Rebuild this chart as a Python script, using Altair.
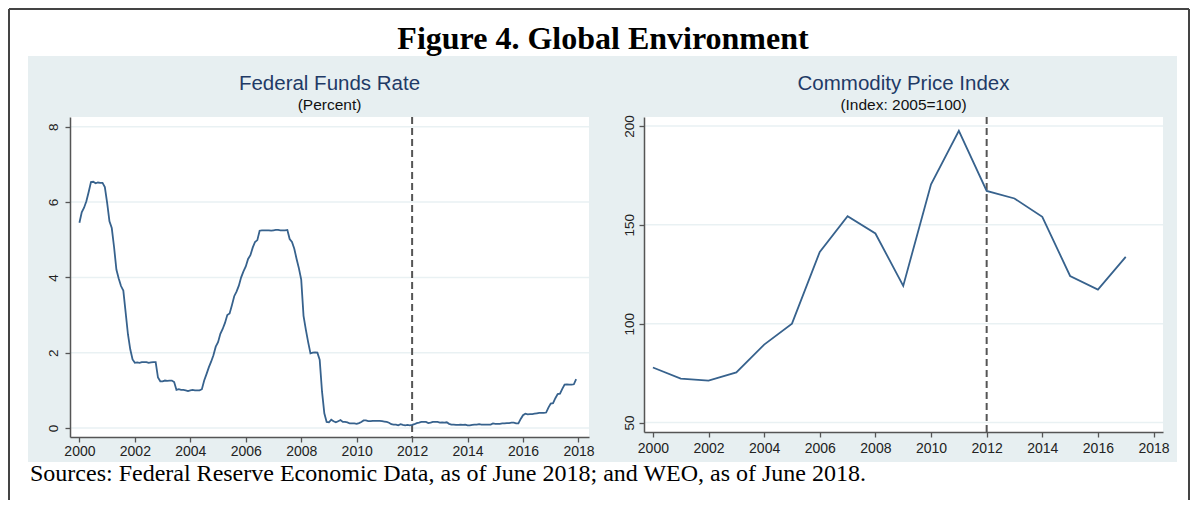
import altair as alt
import pandas as pd

# ---------------- data ----------------
fig_title = "Figure 4. Global Environment"
sources_text = "Sources: Federal Reserve Economic Data, as of June 2018; and WEO, as of June 2018."

ffr_title = "Federal Funds Rate"
ffr_subtitle = "(Percent)"
comm_title = "Commodity Price Index"
comm_subtitle = "(Index: 2005=100)"

ffr_years = list(range(2000, 2018))
# monthly effective federal funds rate, Jan 2000 - Dec 2017 (one row per year)
ffr_values = [
    5.45, 5.73, 5.85, 6.02, 6.27, 6.53, 6.54, 6.50, 6.52, 6.51, 6.51, 6.40,
    5.98, 5.49, 5.31, 4.80, 4.21, 3.97, 3.77, 3.65, 3.07, 2.49, 2.09, 1.82,
    1.73, 1.74, 1.73, 1.75, 1.75, 1.75, 1.73, 1.74, 1.75, 1.75, 1.34, 1.24,
    1.24, 1.26, 1.25, 1.26, 1.26, 1.22, 1.01, 1.03, 1.01, 1.01, 1.00, 0.98,
    1.00, 1.01, 1.00, 1.00, 1.00, 1.03, 1.26, 1.43, 1.61, 1.76, 1.93, 2.16,
    2.28, 2.50, 2.63, 2.79, 3.00, 3.04, 3.26, 3.50, 3.62, 3.78, 4.00, 4.16,
    4.29, 4.49, 4.59, 4.79, 4.94, 4.99, 5.24, 5.25, 5.25, 5.25, 5.25, 5.24,
    5.25, 5.26, 5.26, 5.25, 5.25, 5.25, 5.26, 5.02, 4.94, 4.76, 4.49, 4.24,
    3.94, 2.98, 2.61, 2.28, 1.98, 2.00, 2.01, 2.00, 1.81, 0.97, 0.39, 0.16,
    0.15, 0.22, 0.18, 0.15, 0.18, 0.21, 0.16, 0.16, 0.15, 0.12, 0.12, 0.12,
    0.11, 0.13, 0.16, 0.20, 0.20, 0.18, 0.18, 0.19, 0.19, 0.19, 0.19, 0.18,
    0.17, 0.16, 0.14, 0.10, 0.09, 0.09, 0.07, 0.10, 0.08, 0.07, 0.08, 0.07,
    0.08, 0.10, 0.13, 0.14, 0.16, 0.16, 0.16, 0.13, 0.14, 0.16, 0.16, 0.16,
    0.14, 0.15, 0.14, 0.15, 0.11, 0.09, 0.09, 0.08, 0.08, 0.09, 0.08, 0.09,
    0.07, 0.07, 0.08, 0.09, 0.09, 0.10, 0.09, 0.09, 0.09, 0.09, 0.09, 0.12,
    0.11, 0.11, 0.11, 0.12, 0.12, 0.13, 0.13, 0.14, 0.14, 0.12, 0.12, 0.24,
    0.34, 0.38, 0.36, 0.37, 0.37, 0.38, 0.39, 0.40, 0.40, 0.40, 0.41, 0.54,
    0.65, 0.66, 0.79, 0.90, 0.91, 1.04, 1.15, 1.16, 1.15, 1.15, 1.16, 1.30,
]
ffr_time = [y + m / 12 for y in ffr_years for m in range(12)]

comm_years = list(range(2000, 2018))
comm_index = [77.8, 72.2, 71.2, 75.3, 89.4, 100.0, 136.3, 154.3, 145.6,
              119.1, 170.5, 197.5, 167.1, 163.3, 154.0, 124.1, 117.2, 133.8]

x_ticks = [2000, 2002, 2004, 2006, 2008, 2010, 2012, 2014, 2016, 2018]
ffr_ticks = [0, 2, 4, 6, 8]
comm_ticks = [50, 100, 150, 200]
cutoff_year = [2012]

# ---------------- styling ----------------
BG = "#e7eff1"
GRID = "#e9f1f3"
LINE = "#37628d"
TITLE_C = "#1f3a66"
AX = "#555555"
SANS = "Liberation Sans"
SERIF = "Liberation Serif"

W = 519
HL = 320
HR = 315


def x_axis(pad):
    return alt.Axis(values=x_ticks, format="d", title=None, grid=False, zindex=1,
                    labelFont=SANS, labelFontSize=14, labelColor="#222",
                    labelPadding=pad, labelFlush=False, labelOverlap=False,
                    domainColor=AX, domainWidth=1.5, tickColor=AX, tickSize=5,
                    tickWidth=1.3)


def y_axis(vals, pad):
    return alt.Axis(values=vals, format="d", title=None, grid=False, zindex=1,
                    labelFont=SANS, labelFontSize=13.5, labelColor="#222",
                    labelAngle=270, labelAlign="center", labelBaseline="bottom",
                    labelPadding=pad, labelFlush=False, labelOverlap=False,
                    domainColor=AX, domainWidth=1.5, tickColor=AX, tickSize=5,
                    tickWidth=1.3)


one = pd.DataFrame({"k": [0]})


def panel(df, xf, yf, xdom, ydom, yticks, h, title, subtitle, xpad, ypad):
    xs = alt.Scale(domain=xdom, nice=False, zero=False)
    ys = alt.Scale(domain=ydom, nice=False, zero=False)
    xa = x_axis(xpad)
    ya = y_axis(yticks, ypad)
    bg = alt.Chart(one).mark_rect(color=BG).encode(
        x=alt.value(-42), x2=alt.value(W + 14), y=alt.value(-61), y2=alt.value(345))
    white = alt.Chart(one).mark_rect(color="white").encode(
        x=alt.value(0), x2=alt.value(W), y=alt.value(0), y2=alt.value(h))
    grid = alt.Chart(pd.DataFrame({"v": yticks})).mark_rule(color=GRID, strokeWidth=1.5).encode(
        y=alt.Y("v:Q", scale=ys, axis=ya))
    cut = alt.Chart(pd.DataFrame({"c": cutoff_year})).mark_rule(
        color="#555", strokeWidth=2, strokeDash=[7, 4]).encode(
        x=alt.X("c:Q", scale=xs, axis=xa))
    line = alt.Chart(df).mark_line(color=LINE, strokeWidth=1.8).encode(
        x=alt.X(f"{xf}:Q", scale=xs, axis=xa),
        y=alt.Y(f"{yf}:Q", scale=ys, axis=ya))
    t1 = alt.Chart(pd.DataFrame({"t": [title]})).mark_text(
        font=SANS, fontSize=20.5, color=TITLE_C, align="center", baseline="middle").encode(
        text="t:N", x=alt.value(W / 2), y=alt.value(-33))
    t2 = alt.Chart(pd.DataFrame({"t": [subtitle]})).mark_text(
        font=SANS, fontSize=15.5, color="#111", align="center", baseline="middle").encode(
        text="t:N", x=alt.value(W / 2), y=alt.value(-12))
    return [bg, white, grid, cut, line, t1, t2]


ffr_df = pd.DataFrame({"time": ffr_time, "rate": ffr_values})
comm_df = pd.DataFrame({"year": comm_years, "index": comm_index})

left_layers = panel(ffr_df, "time", "rate", [1999.66, 2018.38], [-0.24, 8.26],
                    ffr_ticks, HL, ffr_title, ffr_subtitle, 2, 5)
right_layers = panel(comm_df, "year", "index", [1999.68, 2018.34], [45.2, 204.5],
                     comm_ticks, HR, comm_title, comm_subtitle, 4, 3)

# outer frame, figure title and sources (decoration, drawn with the right panel,
# coordinates relative to its plot area)
frame_l = alt.Chart(one).mark_rule(color="#444", strokeWidth=2).encode(
    x=alt.value(-635), y=alt.value(-108), y2=alt.value(383))
frame_t = alt.Chart(one).mark_rule(color="#444", strokeWidth=2).encode(
    x=alt.value(-635), x2=alt.value(545), y=alt.value(-108))
frame_r = alt.Chart(one).mark_rule(color="#444", strokeWidth=2).encode(
    x=alt.value(545), y=alt.value(-108), y2=alt.value(383))
fig_t = alt.Chart(pd.DataFrame({"t": [fig_title]})).mark_text(
    font=SERIF, fontSize=32, fontWeight="bold", color="black", align="center",
    baseline="middle").encode(text="t:N", x=alt.value(-41), y=alt.value(-78))
src_t = alt.Chart(pd.DataFrame({"t": [sources_text]})).mark_text(
    font=SERIF, fontSize=24, color="black", align="left",
    baseline="middle").encode(text="t:N", x=alt.value(-614), y=alt.value(357))

left = alt.layer(*left_layers).properties(width=W, height=HL)
right = alt.layer(*right_layers, frame_l, frame_t, frame_r, fig_t, src_t).properties(width=W, height=HR)

chart = alt.hconcat(left, right, spacing=55, bounds="flush").properties(
    padding={"left": 0, "top": 0, "right": 0, "bottom": 0},
    background="white",
).configure_view(stroke=None)

chart.save("out.html", embed_options={"renderer": "svg", "actions": False})
